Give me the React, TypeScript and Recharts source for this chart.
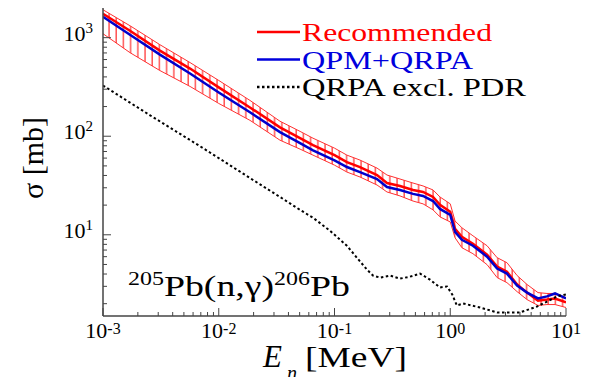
import React from 'react';
import { ComposedChart, Line, Area, XAxis, YAxis } from 'recharts';

// neutron energy grid [MeV] for the main curves
const energy = [0.001, 0.00171, 0.0031, 0.00565, 0.01, 0.0186, 0.0338, 0.0504, 0.0652, 0.1, 0.128, 0.166, 0.233, 0.284, 0.368, 0.477, 0.582, 0.71, 0.815, 1.0, 1.1, 1.26, 1.57, 2.08, 2.54, 3.09, 3.78, 4.61, 5.73, 6.85, 8.04, 10];
// cross sections [mb]
const recommended = [1747, 1177, 739, 486, 313, 196, 123, 95.5, 81.1, 64.3, 54.6, 48.6, 40.4, 33.5, 31.3, 28.5, 27.2, 24.2, 20.1, 17.1, 11.5, 9.55, 8.11, 6.28, 4.75, 4.23, 3.13, 2.59, 2.15, 2.2, 2.26, 2.06];
const qpmQrpa = [1630, 1072, 673, 433, 278, 175, 110, 85, 72, 57, 48.7, 43.3, 36.8, 30.5, 28.5, 26.0, 24.8, 22.0, 18.3, 15.9, 10.7, 8.9, 7.74, 6.0, 4.54, 4.04, 3.05, 2.59, 2.26, 2.37, 2.54, 2.26];
const bandHigh = [1919, 1322, 849, 559, 368, 231, 142, 112, 95.5, 75.7, 64.3, 57.3, 47.5, 40.4, 36.8, 33.5, 31.3, 28.5, 24.2, 20.6, 13.8, 11.8, 9.77, 7.74, 5.86, 5.21, 3.86, 3.13, 2.59, 2.54, 2.54, 2.31];
const bandLow = [1097, 705, 464, 320, 215, 145, 91.2, 74, 64.3, 50.9, 43.3, 38.6, 32.0, 27.2, 24.8, 22.0, 20.6, 17.9, 15.2, 13.5, 9.33, 7.40, 6.43, 4.98, 3.68, 3.27, 2.65, 2.20, 1.92, 1.96, 1.96, 1.83];

// QRPA without pygmy dipole resonance
const noPdrEnergy = [0.001, 0.00255, 0.00689, 0.0186, 0.0338, 0.0504, 0.0652, 0.0914, 0.128, 0.156, 0.191, 0.215, 0.247, 0.302, 0.368, 0.449, 0.548, 0.668, 0.815, 0.938, 1.04, 1.14, 1.29, 1.81, 2.54, 4.01, 5.61, 6.85, 8.36, 10];
const noPdr = [327, 163, 79.2, 37.7, 24.2, 17.9, 14.9, 11.0, 7.74, 5.86, 4.43, 3.86, 3.68, 3.86, 3.59, 3.76, 4.04, 3.51, 2.92, 2.99, 2.48, 1.92, 2.01, 1.83, 1.63, 1.63, 1.87, 2.10, 2.37, 2.48];

const xTicks = [0.001, 0.002, 0.003, 0.004, 0.005, 0.006, 0.007, 0.008, 0.009, 0.01, 0.02, 0.03, 0.04, 0.05, 0.06, 0.07, 0.08, 0.09, 0.1, 0.2, 0.3, 0.4, 0.5, 0.6, 0.7, 0.8, 0.9, 1, 2, 3, 4, 5, 6, 7, 8, 9, 10];
const yTicks = [2, 3, 4, 5, 6, 7, 8, 9, 10, 20, 30, 40, 50, 60, 70, 80, 90, 100, 200, 300, 400, 500, 600, 700, 800, 900, 1000];

const legendItems = [
  { name: 'Recommended', color: '#ff0000', dash: undefined as string | undefined, len: 190 },
  { name: 'QPM+QRPA', color: '#0000dd', dash: undefined as string | undefined, len: 171 },
  { name: 'QRPA excl. PDR', color: '#000000', dash: '2.5 2.5', len: 224 },
];

const mainData = energy.map((x, i) => ({
  x,
  rec: recommended[i],
  qpm: qpmQrpa[i],
  band: [bandLow[i], bandHigh[i]],
}));
const noPdrData = noPdrEnergy.map((x, i) => ({ x, y: noPdr[i] }));

const SERIF: React.CSSProperties = { fontFamily: "'Liberation Serif', 'DejaVu Serif', serif" };
const AXIS = '#444';

const isMajor = (v: number) => Math.abs(Math.log10(v) - Math.round(Math.log10(v))) < 1e-6;
const expOf = (v: number) => `${Math.round(Math.log10(v))}`;

const BottomTick = (props: any) => {
  const { x, y, payload } = props;
  const major = isMajor(payload.value);
  return (
    <g>
      <line x1={x} y1={y} x2={x} y2={y - (major ? 8 : 4)} stroke={AXIS} strokeWidth={1} />
      {major && (
        <text x={x} y={y + 22} textAnchor="middle" style={SERIF} fontSize={22} fill="#000">
          10<tspan dy={-4} fontSize={16}>{expOf(payload.value)}</tspan>
        </text>
      )}
    </g>
  );
};

const TopTick = (props: any) => {
  const { x, y, payload } = props;
  const major = isMajor(payload.value);
  return <line x1={x} y1={y} x2={x} y2={y + (major ? 8 : 4)} stroke={AXIS} strokeWidth={1} />;
};

const LeftTick = (props: any) => {
  const { x, y, payload } = props;
  const major = isMajor(payload.value);
  return (
    <g>
      <line x1={x} y1={y} x2={x + (major ? 8 : 4)} y2={y} stroke={AXIS} strokeWidth={1} />
      {major && (
        <text x={x - 10} y={y + 3} textAnchor="end" style={SERIF} fontSize={22} fill="#000">
          10<tspan dy={-8} fontSize={15}>{expOf(payload.value)}</tspan>
        </text>
      )}
    </g>
  );
};

const RightTick = (props: any) => {
  const { x, y, payload } = props;
  const major = isMajor(payload.value);
  return <line x1={x} y1={y} x2={x - (major ? 8 : 4)} y2={y} stroke={AXIS} strokeWidth={1} />;
};

export default function App() {
  return (
    <div style={{ position: 'relative', width: 589, height: 385, margin: -8, background: '#fff' }}>
      <ComposedChart width={589} height={385} data={mainData} margin={{ top: 8, right: 23, bottom: 0, left: 0 }}>
        <XAxis
          dataKey="x"
          type="number"
          scale="log"
          domain={[0.001, 10]}
          allowDataOverflow
          ticks={xTicks}
          interval={0}
          height={69}
          tickSize={0}
          tickMargin={0}
          tickLine={false}
          tick={<BottomTick />}
          axisLine={{ stroke: AXIS, strokeWidth: 1.5 }}
        />
        <XAxis
          xAxisId="top"
          orientation="top"
          dataKey="x"
          type="number"
          scale="log"
          domain={[0.001, 10]}
          allowDataOverflow
          ticks={xTicks}
          interval={0}
          height={0}
          tickSize={0}
          tickMargin={0}
          tickLine={false}
          tick={<TopTick />}
          axisLine={{ stroke: '#222', strokeWidth: 1.2 }}
        />
        <YAxis
          type="number"
          scale="log"
          domain={[1.5, 2000]}
          allowDataOverflow
          ticks={yTicks}
          interval={0}
          width={103}
          tickSize={0}
          tickMargin={0}
          tickLine={false}
          tick={<LeftTick />}
          axisLine={{ stroke: AXIS, strokeWidth: 1.5 }}
        />
        <YAxis
          yAxisId="right"
          orientation="right"
          type="number"
          scale="log"
          domain={[1.5, 2000]}
          allowDataOverflow
          ticks={yTicks}
          interval={0}
          width={0}
          tickSize={0}
          tickMargin={0}
          tickLine={false}
          tick={<RightTick />}
          axisLine={{ stroke: AXIS, strokeWidth: 1.2 }}
        />
        <Area
          dataKey="band"
          type="linear"
          stroke="#ff3030"
          strokeWidth={1}
          fill="url(#hatch)"
          fillOpacity={1}
          dot={false}
          activeDot={false}
          isAnimationActive={false}
          legendType="none"
        />
        <Line dataKey="rec" name="Recommended" type="linear" stroke="#ff0000" strokeWidth={2.5} dot={false} activeDot={false} isAnimationActive={false} />
        <Line dataKey="qpm" name="QPM+QRPA" type="linear" stroke="#0000cc" strokeWidth={2.5} dot={false} activeDot={false} isAnimationActive={false} />
        <Line data={noPdrData} dataKey="y" name="QRPA excl. PDR" type="linear" stroke="#000" strokeWidth={2} strokeDasharray="2.5 2.5" dot={false} activeDot={false} isAnimationActive={false} />
      </ComposedChart>

      <svg width={589} height={385} style={{ position: 'absolute', left: 0, top: 0, pointerEvents: 'none' }}>
        <defs>
          <pattern id="hatch" patternUnits="userSpaceOnUse" width={7.2} height={10}>
            <line x1={1} y1={0} x2={1} y2={10} stroke="#ff0000" strokeWidth={1} />
          </pattern>
        </defs>

        {legendItems.map((item, i) => (
          <g key={item.name}>
            <line x1={257} x2={300} y1={32 + i * 27.5} y2={32 + i * 27.5} stroke={item.color} strokeWidth={2.5} strokeDasharray={item.dash} />
            <text x={302} y={41 + i * 27.5} style={SERIF} fontSize={26} fill={item.color}
              textLength={item.len} lengthAdjust="spacingAndGlyphs">
              {item.name}
            </text>
          </g>
        ))}

        <text transform="translate(43,158) rotate(-90)" textAnchor="middle" style={SERIF} fontSize={30} fill="#000">
          σ [mb]
        </text>

        <text x={263} y={367} style={SERIF} fontStyle="italic" fontSize={31} fill="#000">E</text>
        <text x={287} y={380} style={SERIF} fontStyle="italic" fontSize={20} fill="#000">n</text>
        <text x={305} y={367} style={SERIF} fontSize={30} fill="#000" textLength={102} lengthAdjust="spacingAndGlyphs">[MeV]</text>

        <text x={128} y={296} style={SERIF} fontSize={30} fill="#000" textLength={222} lengthAdjust="spacingAndGlyphs">
          <tspan fontSize={19} dy={-11}>205</tspan>
          <tspan dy={11}>Pb(n,γ)</tspan>
          <tspan fontSize={19} dy={-11}>206</tspan>
          <tspan dy={11}>Pb</tspan>
        </text>
      </svg>
    </div>
  );
}
